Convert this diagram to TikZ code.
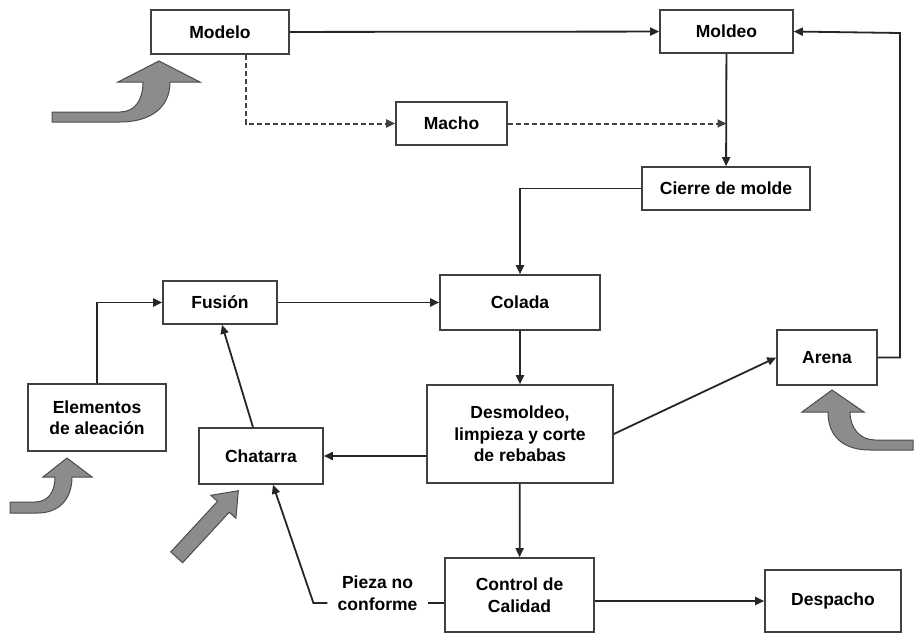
\documentclass[tikz,border=0pt]{standalone}
\usepackage{fontspec}
\setmainfont{Liberation Sans}
\usetikzlibrary{arrows.meta}

\begin{document}
\begin{tikzpicture}[x=1pt,y=-1pt,
    font=\fontsize{17.5}{21.5}\selectfont\bfseries,
    >={Triangle[length=9pt,width=8pt]},
    linea/.style={line width=1.8pt,draw=black!85}]
\useasboundingbox[fill=white] (0,0) rectangle (914,635);

\begin{scope}[every node/.style={draw=black!75,line width=1.6pt,fill=white,inner sep=0pt,align=center}]
    \node[minimum width=138pt,minimum height=44pt] (modelo) at (220, 32) {Modelo};
    \node[minimum width=133pt,minimum height=43pt] (moldeo) at (726.5, 31.5) {Moldeo};
    \node[minimum width=111pt,minimum height=43pt] (macho) at (451.5, 123.5) {Macho};
    \node[minimum width=168pt,minimum height=43pt] (cierre) at (726, 188.5) {Cierre de molde};

    \node[minimum width=114pt,minimum height=43pt] (fusion) at (220, 302.5) {Fusión};
    \node[minimum width=160pt,minimum height=55pt] (colada) at (520, 302.5) {Colada};
    \node[minimum width=100pt,minimum height=55pt] (arena) at (827, 357.5) {Arena};

    \node[minimum width=138pt,minimum height=67pt] (elementos) at (97, 417.5) {Elementos\\de aleación};
    \node[minimum width=124pt,minimum height=56pt] (chatarra) at (261, 456) {Chatarra};
    \node[minimum width=186pt,minimum height=98pt] (desmoldeo) at (520, 434) {Desmoldeo,\\limpieza y corte\\de rebabas};

    \node[minimum width=149pt,minimum height=74pt] (control) at (519.5, 595) {Control de\\Calidad};
    \node[minimum width=136pt,minimum height=62pt] (despacho) at (833, 601) {Despacho};
\end{scope}

\node[align=center,inner sep=10pt] (pieza) at (377.5, 593) {Pieza no\\conforme};
\coordinate (esquina) at (900, 33);

\begin{scope}[linea,every edge/.style={draw,linea}]
    \path [->] (modelo) edge node {} (moldeo);
    \path [->] (moldeo) edge node {} (cierre);
    \draw [->] (cierre.west) -| (colada.north);
    \draw [->] (arena.east) -| (esquina) -- (moldeo.east);

    \draw [->] (elementos.north) |- (fusion.west);
    \path [->] (fusion) edge node {} (colada);
    \path [->] ([xshift=-8pt]chatarra.north) edge node {} ([xshift=2pt]fusion.south);

    \path [->] (colada) edge node {} (desmoldeo);
    \path [->] (desmoldeo) edge node {} (control);
    \path [->] (desmoldeo.west |- chatarra.east) edge node {} (chatarra.east);
    \path [->] (desmoldeo.east) edge node {} (arena.west);
    \path [->] (control.east |- despacho.west) edge node {} (despacho.west);

    \coordinate (pz) at ([yshift=-10pt]pieza.east);
    \draw (control.west |- pz) -- (pz);
    \draw [->] ([yshift=-10pt]pieza.west) -- ++(-14, 0) -- ([xshift=12pt]chatarra.south);
\end{scope}

% macho
\begin{scope}[line width=2pt,draw=black!75,dash pattern=on 5pt off 3pt]
    \draw [->] ([xshift=26pt]modelo.south) |- (macho.west);
    \draw [->] (macho.east) -- (macho.east -| moldeo.south);
\end{scope}

% entradas
\begin{scope}[fill=gray!90,draw=black!70,line width=1pt]
    \filldraw (52,112) -- (120,112) .. controls (135,112) and (143,100) .. (143,82)
        -- (118,82) -- (159,61) -- (200,82) -- (170,82)
        .. controls (170,108) and (150,122) .. (120,122) -- (52,122) -- cycle;
    \filldraw (10,502) -- (35,502) .. controls (48,502) and (55,492) .. (55,477)
        -- (43,477) -- (67,458) -- (92,477) -- (72,477)
        .. controls (72,500) and (58,513) .. (38,513) -- (10,513) -- cycle;
    \filldraw (170.8,551.9) -- (217.5,501.4) -- (210.9,495.3) -- (238.3,490.7)
        -- (235.9,518.3) -- (229.3,512.2) -- (182.6,562.7) -- cycle;
    \filldraw (913,440) -- (875,440) .. controls (860,440) and (850,428) .. (850,412)
        -- (864,412) -- (832,390) -- (802,412) -- (828,412)
        .. controls (828,438) and (845,450) .. (870,450) -- (913,450) -- cycle;
\end{scope}

\end{tikzpicture}
\end{document}
